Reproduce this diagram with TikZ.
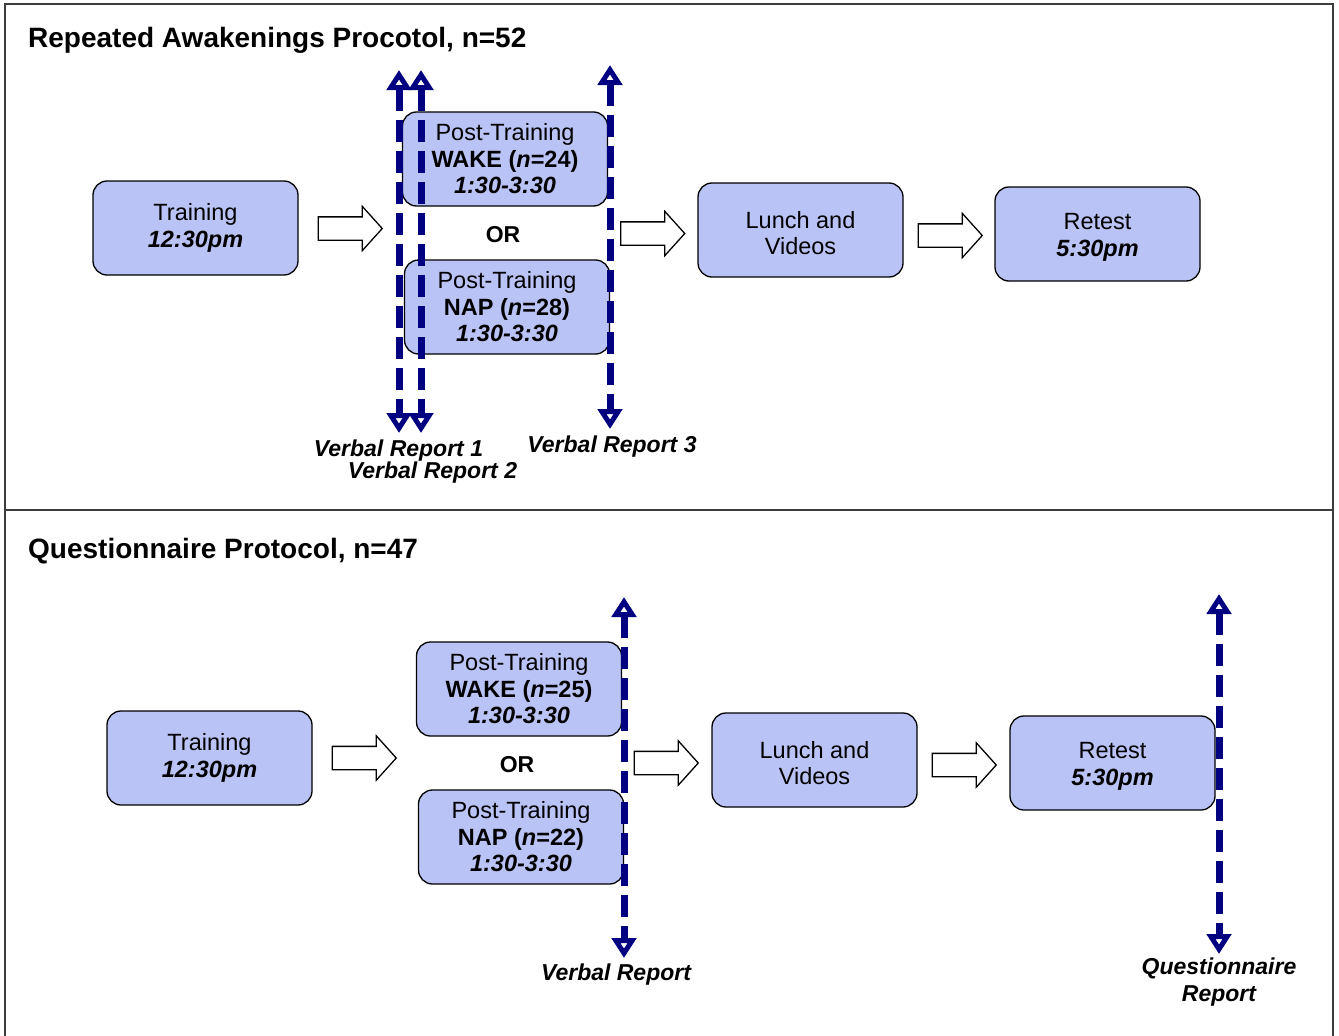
\documentclass[tikz,border=0pt]{standalone}
\usepackage{fontspec}
\setmainfont{Liberation Sans}
\usetikzlibrary{arrows.meta,shapes.arrows}
\definecolor{boxblue}{RGB}{186,195,245}
\definecolor{navyline}{RGB}{0,0,128}
\definecolor{framegray}{RGB}{60,60,60}
\newcommand{\uppad}{\rule{0pt}{23pt}}
\begin{document}
\begin{tikzpicture}[x=1pt,y=-1pt,
  every node/.style={font=\fontsize{23.5}{26.5}\selectfont},
  stagebox/.style={draw=black,line width=1.3pt,fill=boxblue,rounded corners=14pt,
    minimum width=205pt,minimum height=94pt,align=center,inner sep=0pt},
  flowarrow/.style={single arrow,draw=black,line width=1.3pt,fill=white,
    minimum height=64pt,inner xsep=0pt,inner ysep=11pt,single arrow head extend=10.5pt,
    single arrow tip angle=96},
  reportline/.style={draw=navyline,line width=7pt,dash pattern=on 22pt off 9pt,
    {Triangle[open,length=20pt,width=24pt,line width=5.5pt]}-{Triangle[open,length=20pt,width=24pt,line width=5.5pt]}},
  titletext/.style={anchor=base west,font=\fontsize{28}{30}\selectfont\bfseries,inner sep=0pt},
  reportlabel/.style={anchor=base,font=\fontsize{23}{26.5}\selectfont\bfseries\itshape,inner sep=0pt,align=center},
  ortext/.style={font=\fontsize{23}{26.5}\selectfont\bfseries,inner sep=0pt}
]
\useasboundingbox (0,0) rectangle (1339,1036);
% frame
\draw[framegray,line width=1.5pt] (5,1050) -- (5,4) -- (1333,4) -- (1333,1050);
\draw[framegray,line width=1.5pt] (5,510) -- (1333,510);

% ---------- top panel ----------
\node[titletext] (t1) at (28,47) {Repeated Awakenings Procotol, n=52};
\node[stagebox] (train1) at (195.5,228) {Training\\\textbf{\textit{12:30pm}}};
\node[stagebox] (wake1) at (505,159) {Post-Training\\\textbf{WAKE (\textit{n}=24)}\\\textbf{\textit{1:30-3:30}}};
\node[ortext] (or1) at (503,235) {OR};
\node[stagebox] (nap1) at (507,307) {Post-Training\\\textbf{NAP (\textit{n}=28)}\\\textbf{\textit{1:30-3:30}}};
\node[stagebox] (lunch1) at (800.5,230) {\uppad Lunch and\\Videos};
\node[stagebox] (retest1) at (1097.5,234) {\uppad Retest\\\textbf{\textit{5:30pm}}};
\node[flowarrow] (fa1) at (345,228.5) {};
\node[flowarrow] (fa2) at (647.5,233.5) {};
\node[flowarrow] (fa3) at (945,235.5) {};

\coordinate (r1t) at (399,70);
\coordinate (r1b) at (399,433);
\coordinate (r2t) at (421,70);
\coordinate (r2b) at (421,433);
\coordinate (r3t) at (610,65);
\coordinate (r3b) at (610,429);
\draw[reportline] (r1t) -- (r1b);
\draw[reportline] (r2t) -- (r2b);
\draw[reportline] (r3t) -- (r3b);
\node[reportlabel] (vr1) at (398.5,456) {Verbal Report 1};
\node[reportlabel] (vr2) at (432.5,478) {Verbal Report 2};
\node[reportlabel] (vr3) at (612,452) {Verbal Report 3};

% ---------- bottom panel ----------
\node[titletext] (t2) at (28,558) {Questionnaire Protocol, n=47};
\node[stagebox] (train2) at (209.5,758) {Training\\\textbf{\textit{12:30pm}}};
\node[stagebox] (wake2) at (519,689) {Post-Training\\\textbf{WAKE (\textit{n}=25)}\\\textbf{\textit{1:30-3:30}}};
\node[ortext] (or2) at (517,765) {OR};
\node[stagebox] (nap2) at (521,837) {Post-Training\\\textbf{NAP (\textit{n}=22)}\\\textbf{\textit{1:30-3:30}}};
\node[stagebox] (lunch2) at (814.5,760) {\uppad Lunch and\\Videos};
\node[stagebox] (retest2) at (1112.5,763) {\uppad Retest\\\textbf{\textit{5:30pm}}};
\node[flowarrow] (fb1) at (359,758) {};
\node[flowarrow] (fb2) at (661,763) {};
\node[flowarrow] (fb3) at (959,765) {};

\coordinate (r4t) at (624,597);
\coordinate (r4b) at (624,958);
\coordinate (r5t) at (1219,594);
\coordinate (r5b) at (1219,954);
\draw[reportline] (r4t) -- (r4b);
\draw[reportline] (r5t) -- (r5b);
\node[reportlabel] (vr4) at (616,980) {Verbal Report};
\node[reportlabel] (qr) at (1219,1001) {Questionnaire\\Report};
\end{tikzpicture}
\end{document}
